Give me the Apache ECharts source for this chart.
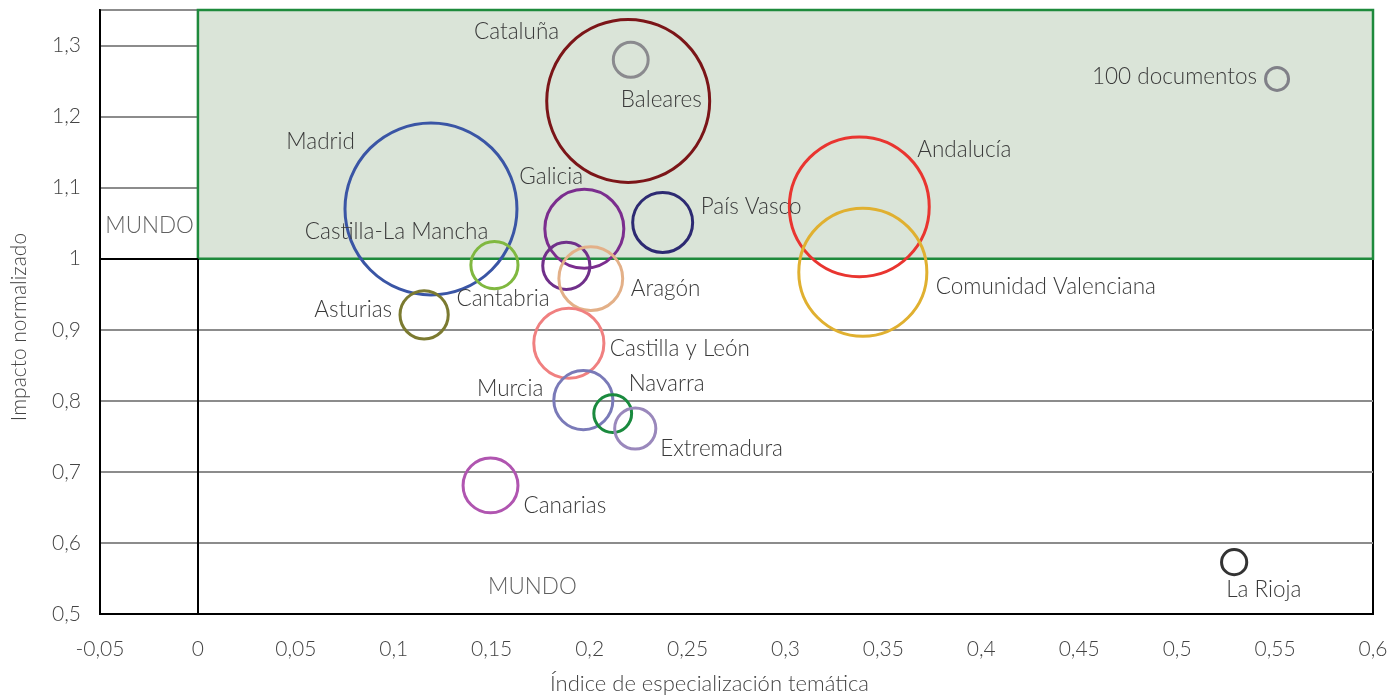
<!DOCTYPE html>
<html>
<head>
<meta charset="utf-8">
<script src="https://cdn.jsdelivr.net/npm/echarts@6/dist/echarts.min.js"></script>
<style>html,body{margin:0;padding:0;background:#fff}#c{width:1397px;height:700px}</style>
</head>
<body>
<div id="c"></div>
<script>
// ---- data ----
const regions = ['Cataluña','Baleares','100 documentos','Madrid','Galicia','País Vasco','Andalucía','Comunidad Valenciana','Castilla-La Mancha','Cantabria','Asturias','Aragón','Castilla y León','Murcia','Navarra','Extremadura','Canarias','La Rioja'];
const especializacion = [0.2197,0.221,0.551,0.119,0.1973,0.2373,0.3377,0.3395,0.1881,0.1514,0.1155,0.2006,0.1894,0.1968,0.2118,0.2233,0.1494,0.5291];
const impacto = [1.222,1.280,1.253,1.070,1.042,1.051,1.073,0.981,0.990,0.991,0.921,0.972,0.881,0.801,0.782,0.761,0.681,0.573];
const documentos = [5020,230,100,5590,1180,680,3700,3100,420,420,440,770,930,660,270,320,570,120];
const xTicks = {min:-0.05, max:0.6, interval:0.05};
const yTicks = {min:0.5, max:1.35, interval:0.1};
const mundoLabels = ['MUNDO','MUNDO'];
const mundoX = [-0.0247, 0.1708];
const mundoY = [1.0465, 0.538];

// ---- styles ----
const colors = ['#7b1518','#8a8a8e','#808088','#3a55a5','#7b2d8e','#2d2a72','#e93530','#e0b030','#70308a','#80b840','#7b7a30','#e3b088','#f08080','#7a7ab8','#1a8a3e','#9a88bc','#b055b0','#333333'];
// [align, dx, dy]
const labelPos = [
 ['right',-69,-69],['left',-10,40],['right',-20,-2],['right',-76,-67],['left',-65,-52],
 ['left',38,-16],['left',58,-57],['left',73,15],['right',-78,-34],['left',-38,34],
 ['right',-32,-5],['left',40,10],['left',41,5],['right',-40,-11],['left',16,-30],
 ['left',25,20],['left',33,20],['left',-8,28]
];
const refDiam = 23;
const FONT = 'Lato';
const LBL = 22.5;
const fmt = v => String(Math.round(v*100)/100).replace('.', ',');

const bubbleData = regions.map((n,i)=>({
  name:n,
  value:[especializacion[i], impacto[i], documentos[i]],
  symbolSize: refDiam*Math.sqrt(documentos[i]/100),
  itemStyle:{color:'rgba(0,0,0,0)', borderColor:colors[i], borderWidth:3, opacity:1},
  label:{show:true, position:'inside', align:labelPos[i][0], verticalAlign:'middle',
         offset:[labelPos[i][1], labelPos[i][2]], formatter:n,
         color:'#3a3a3a', fontSize:LBL, fontFamily:FONT, fontWeight:300}
}));

const chart = echarts.init(document.getElementById('c'), null, {renderer:'canvas'});
chart.setOption({
  animation:false,
  grid:{left:100, right:24, top:10, bottom:85, show:true, borderColor:'#000', borderWidth:2, backgroundColor:'transparent'},
  xAxis:{type:'value', min:xTicks.min, max:xTicks.max, interval:xTicks.interval,
    name:'Índice de especialización temática', nameLocation:'middle', nameGap:59,
    nameTextStyle:{color:'#444', fontSize:22, fontFamily:FONT, fontWeight:300, padding:[0,54,0,0]},
    axisLine:{show:true, onZero:false, lineStyle:{color:'#000', width:2}}, axisTick:{show:false},
    axisLabel:{formatter:fmt, color:'#444', fontSize:21, fontFamily:FONT, fontWeight:300, margin:25},
    splitLine:{show:false}},
  yAxis:{type:'value', min:yTicks.min, max:yTicks.max, interval:yTicks.interval,
    name:'Impacto normalizado', nameLocation:'middle', nameGap:70, nameRotate:90,
    nameTextStyle:{color:'#444', fontSize:21, fontFamily:FONT, fontWeight:300, padding:[0,30,0,0]},
    axisLine:{show:true, onZero:false, lineStyle:{color:'#000', width:2}}, axisTick:{show:false},
    axisLabel:{formatter:fmt, color:'#444', fontSize:21, fontFamily:FONT, fontWeight:300, margin:19, showMaxLabel:false},
    splitLine:{show:true, lineStyle:{color:'#8c8c8c', width:2}}},
  series:[
    { type:'scatter', z:-1, data:[], silent:true,
      markArea:{silent:true, itemStyle:{color:'#dae4d8', borderWidth:0},
        data:[[{coord:[0,1]},{coord:[xTicks.max, yTicks.max]}]]}},
    { type:'scatter', z:3, data:[], silent:true,
      markArea:{silent:true, itemStyle:{color:'rgba(0,0,0,0)', borderColor:'#1e8a3c', borderWidth:2.5},
        data:[[{coord:[0,1]},{coord:[xTicks.max, yTicks.max]}]]},
      markLine:{silent:true, symbol:'none', label:{show:false}, lineStyle:{color:'#000', width:2, type:'solid'},
        data:[[{coord:[0,yTicks.min]},{coord:[0,1]}],[{coord:[xTicks.min,1]},{coord:[0,1]}]]}},
    { type:'scatter', z:4, data:bubbleData, silent:true },
    { type:'scatter', z:4, silent:true, symbolSize:0,
      data:mundoLabels.map((t,i)=>({value:[mundoX[i], mundoY[i]], label:{show:true, position:'inside', formatter:t,
        color:'#3a3a3a', fontSize:LBL, fontFamily:FONT, fontWeight:300}}))}
  ]
});
</script>
</body>
</html>
